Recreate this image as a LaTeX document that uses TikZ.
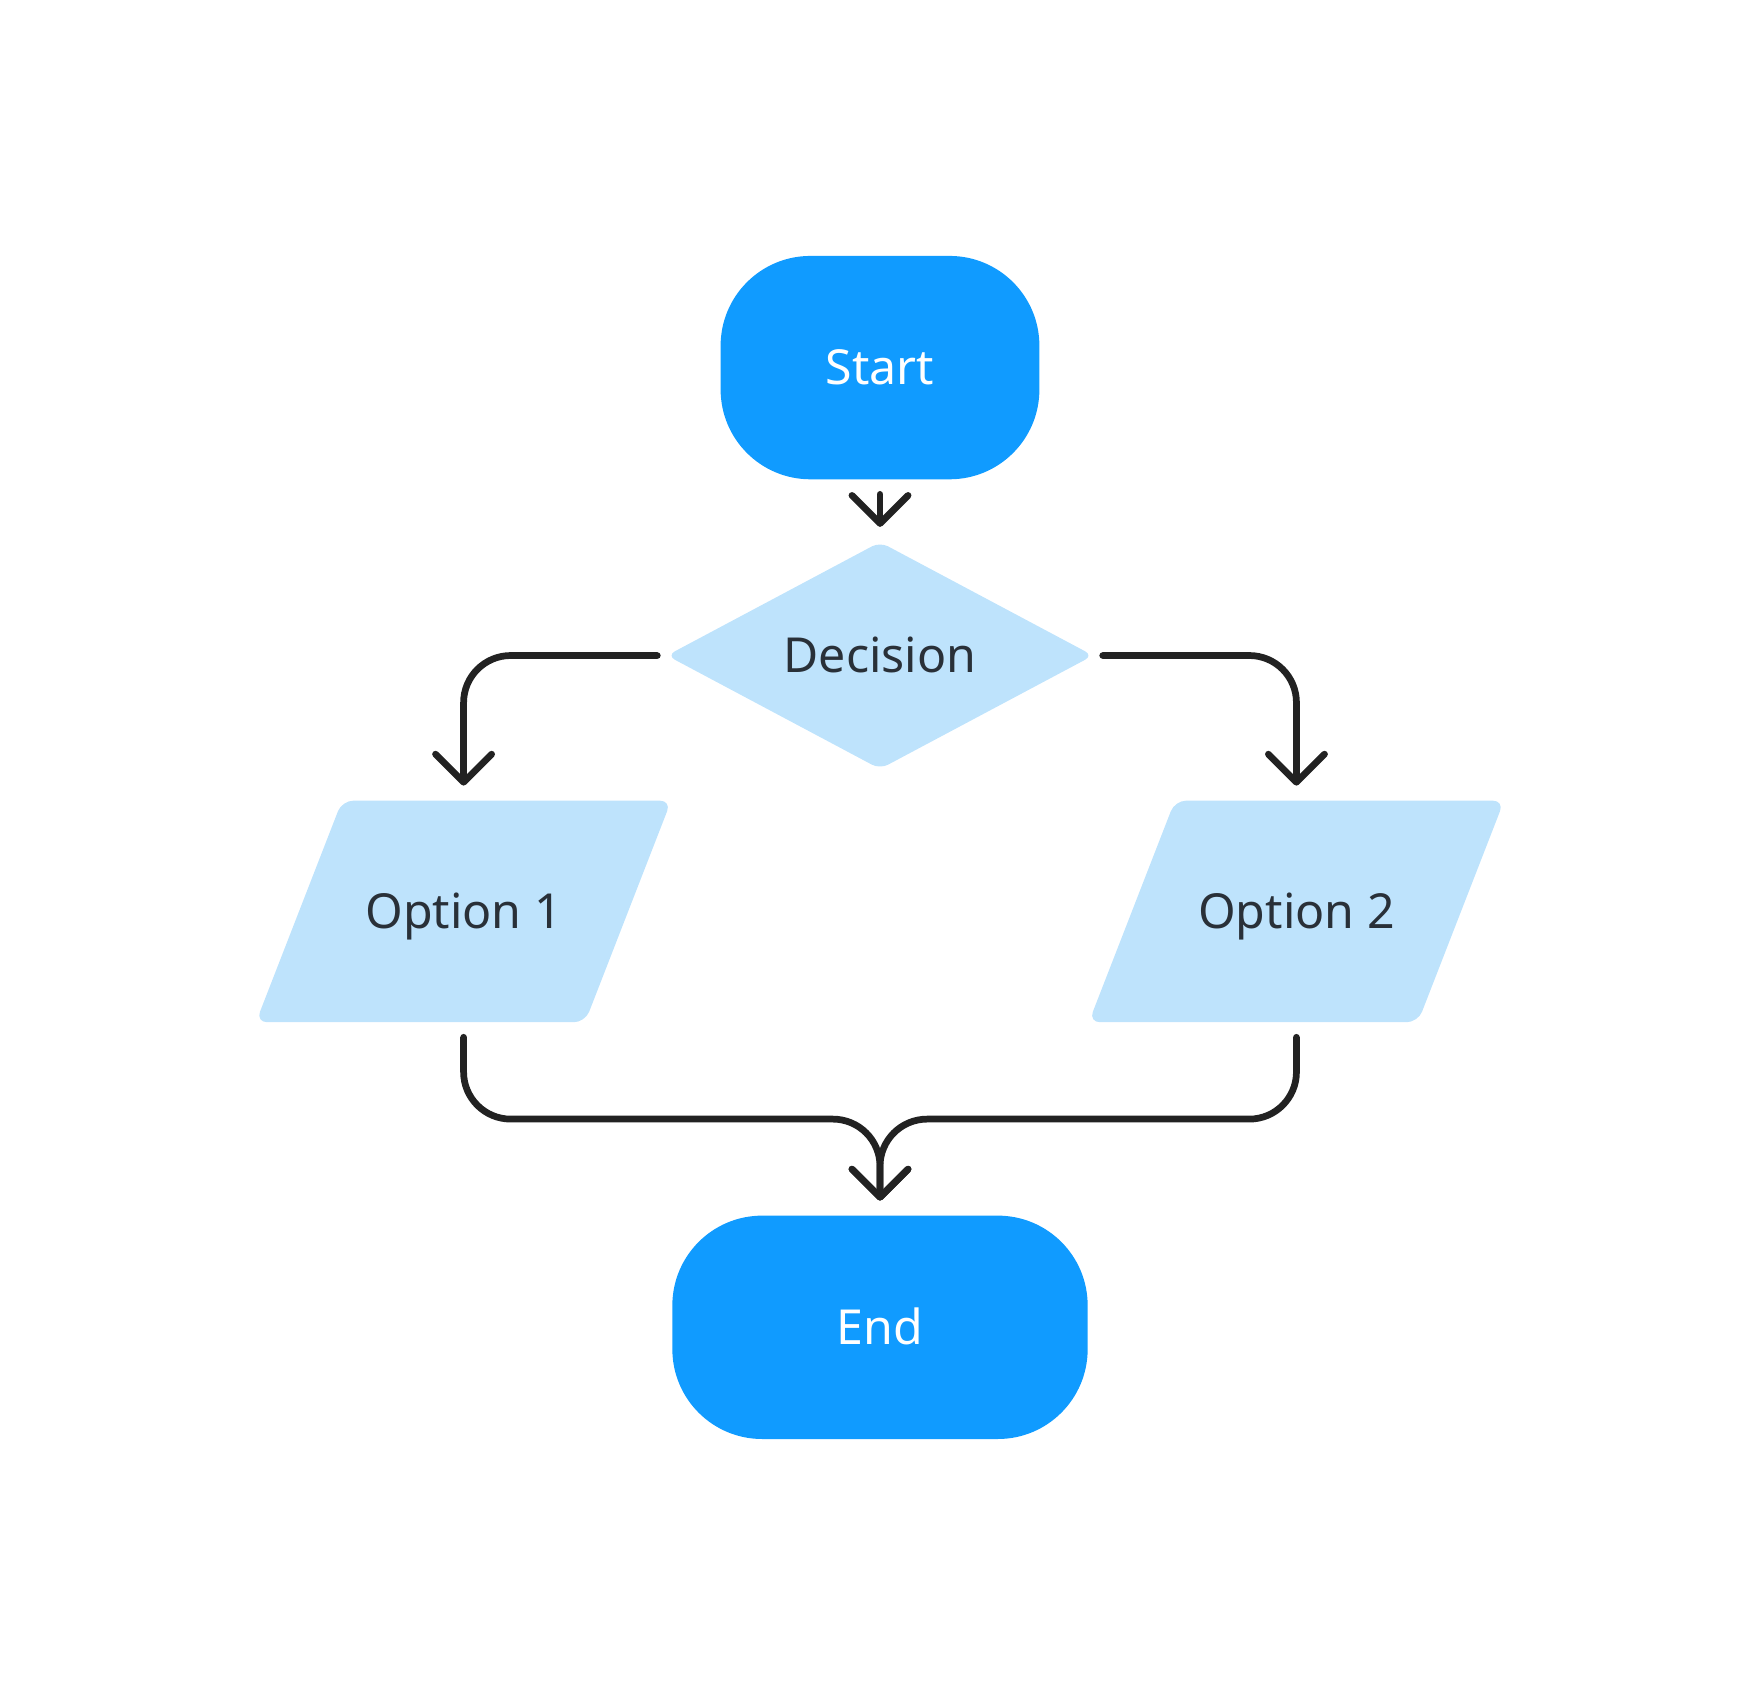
\documentclass[tikz,border=0pt]{standalone}
\usepackage{fontspec}
\setmainfont{Noto Sans}
\usetikzlibrary{shapes.geometric,arrows.meta}
\definecolor{termblue}{HTML}{109BFF}
\definecolor{boxblue}{HTML}{BEE3FC}
\definecolor{inkgray}{HTML}{222222}
\definecolor{textgray}{HTML}{293038}
\tikzset{
  terminal/.style={rectangle,rounded corners=40pt,fill=termblue,text=white,minimum height=99.5pt},
  choice/.style={diamond,fill=boxblue,text=textgray,rounded corners=4pt,inner sep=0pt,minimum width=190pt,minimum height=100pt},
  io/.style={trapezium,trapezium left angle=68.75,trapezium right angle=111.25,trapezium stretches body,fill=boxblue,text=textgray,rounded corners=5pt,inner ysep=41.65pt,minimum width=185pt},
  conn/.style={draw=inkgray,line width=3pt,line cap=round,rounded corners=21pt,-{Straight Barb[length=12.5pt,width=25pt,round]},shorten <=6.5pt,shorten >=6.5pt}
}
\begin{document}
\begin{tikzpicture}[x=0.5pt,y=-0.5pt,font=\fontsize{21.5}{26}\selectfont,text height=15.4pt,text depth=0pt]
\useasboundingbox (0,0) rectangle (1568,1511);
% shapes
\node[terminal,minimum width=142pt] (start) at (784,327.5) {Start};
\node[choice] (decision) at (784,584) {Decision};
\node[io] (opt1) at (413,812) {Option 1};
\node[io] (opt2) at (1155,812) {Option 2};
\node[terminal,minimum width=185pt] (finish) at (784,1182.5) {End};
\coordinate (merge) at (784,997);
% arrows
\draw[conn] (start.south) -- (decision.north);
\draw[conn,shorten <=4pt] (decision.west) -| (opt1.north);
\draw[conn,shorten <=4pt] (decision.east) -| (opt2.north);
\draw[conn] (opt1.south) |- (merge) -- (finish.north);
\draw[conn] (opt2.south) |- (merge) -- (finish.north);
\end{tikzpicture}
\end{document}
